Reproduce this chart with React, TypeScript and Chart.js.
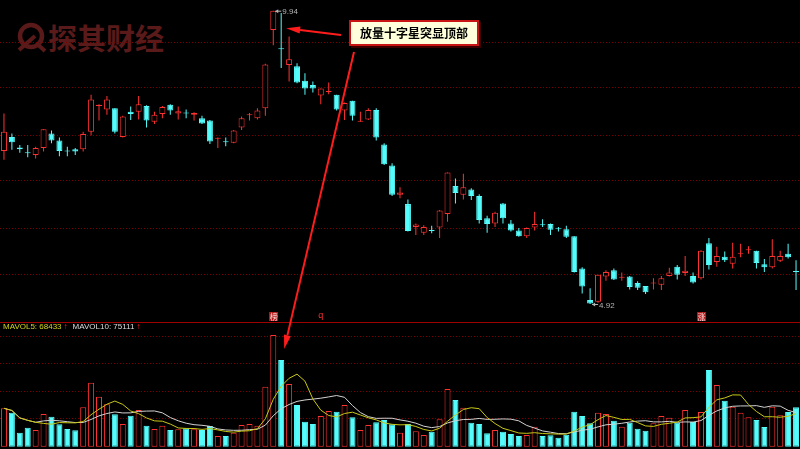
import React, { useEffect, useRef } from "react";
import { Chart, registerables } from "chart.js";

Chart.register(...registerables);

// ---------- data ----------
const OPEN = [
  7.54, 7.78, 7.60, 7.51, 7.47, 7.59, 7.84, 7.72, 7.54, 7.57,
  7.57, 7.87, 8.31, 8.25, 8.27, 7.78, 8.21, 8.21, 8.31, 8.04,
  8.17, 8.33, 8.18, 8.19, 8.16, 8.10, 8.06, 7.75, 7.70, 7.68,
  7.94, 8.15, 8.10, 8.27, 9.61, 9.29, 9.01, 8.99, 8.74, 8.67,
  8.49, 8.55, 8.50, 8.23, 8.40, 8.04, 8.08, 8.24, 7.65, 7.29,
  6.79, 6.63, 6.24, 6.14, 6.18, 6.23, 6.46, 6.94, 6.79, 6.88,
  6.77, 6.39, 6.30, 6.64, 6.30, 6.18, 6.08, 6.23, 6.28, 6.29,
  6.21, 6.20, 6.08, 5.53, 4.99, 4.96, 5.39, 5.50, 5.37, 5.39,
  5.28, 5.23, 5.27, 5.25, 5.40, 5.56, 5.45, 5.40, 5.36, 5.96,
  5.64, 5.73, 5.61, 5.78, 5.84, 5.83, 5.60, 5.55, 5.66, 5.78,
  5.48,
];
const HIGH = [
  8.18, 7.84, 7.64, 7.64, 7.61, 7.91, 7.89, 7.77, 7.61, 7.59,
  7.87, 8.50, 8.34, 8.48, 8.27, 8.14, 8.30, 8.48, 8.32, 8.21,
  8.31, 8.34, 8.30, 8.25, 8.20, 8.14, 8.07, 7.77, 7.77, 7.90,
  8.13, 8.19, 8.27, 9.03, 9.94, 9.90, 9.50, 9.04, 8.87, 8.73,
  8.61, 8.71, 8.50, 8.37, 8.40, 8.21, 8.27, 8.27, 7.67, 7.33,
  6.92, 6.71, 6.30, 6.27, 6.26, 6.53, 7.17, 7.07, 7.15, 6.90,
  6.80, 6.43, 6.50, 6.65, 6.36, 6.22, 6.23, 6.50, 6.37, 6.30,
  6.24, 6.26, 6.08, 5.55, 5.19, 5.42, 5.50, 5.53, 5.46, 5.40,
  5.31, 5.23, 5.36, 5.40, 5.54, 5.59, 5.74, 5.46, 5.84, 6.05,
  5.90, 5.82, 5.97, 5.95, 5.91, 5.83, 5.69, 6.03, 5.83, 5.95,
  5.67,
];
const LOW = [
  7.39, 7.56, 7.51, 7.43, 7.41, 7.53, 7.67, 7.45, 7.45, 7.47,
  7.53, 7.81, 8.06, 8.16, 7.84, 7.77, 8.07, 8.08, 7.94, 8.00,
  8.10, 8.16, 8.08, 8.10, 8.06, 8.00, 7.66, 7.59, 7.62, 7.67,
  7.90, 8.06, 8.08, 8.14, 9.35, 8.96, 8.73, 8.70, 8.50, 8.54,
  8.34, 8.51, 8.23, 8.07, 8.06, 8.04, 8.07, 7.72, 7.30, 6.77,
  6.73, 6.16, 6.10, 6.10, 6.13, 6.05, 6.33, 6.64, 6.71, 6.70,
  6.30, 6.14, 6.24, 6.30, 6.16, 6.07, 6.05, 6.18, 6.24, 6.10,
  6.16, 6.05, 5.46, 5.10, 4.92, 4.94, 5.32, 5.33, 5.32, 5.17,
  5.16, 5.09, 5.17, 5.16, 5.39, 5.34, 5.40, 5.27, 5.34, 5.51,
  5.56, 5.64, 5.53, 5.72, 5.78, 5.53, 5.47, 5.53, 5.64, 5.70,
  5.16,
];
const CLOSE = [
  7.87, 7.69, 7.57, 7.50, 7.59, 7.91, 7.72, 7.54, 7.53, 7.53,
  7.83, 8.42, 8.33, 8.42, 7.87, 8.13, 8.17, 8.34, 8.06, 8.16,
  8.29, 8.23, 8.22, 8.18, 8.19, 8.01, 7.70, 7.76, 7.69, 7.89,
  8.10, 8.16, 8.23, 9.02, 9.94, 9.28, 9.11, 8.71, 8.61, 8.61,
  8.61, 8.56, 8.25, 8.36, 8.14, 8.05, 8.24, 7.77, 7.31, 6.79,
  6.83, 6.17, 6.28, 6.24, 6.17, 6.52, 7.17, 6.82, 6.92, 6.77,
  6.36, 6.29, 6.48, 6.39, 6.18, 6.08, 6.22, 6.29, 6.27, 6.19,
  6.20, 6.07, 5.47, 5.22, 4.93, 5.42, 5.47, 5.34, 5.38, 5.21,
  5.20, 5.12, 5.28, 5.36, 5.46, 5.42, 5.49, 5.29, 5.83, 5.59,
  5.74, 5.67, 5.73, 5.79, 5.85, 5.62, 5.55, 5.74, 5.74, 5.72,
  5.47,
];
const VOLUME = [
  82600, 73100, 30100, 40900, 35900, 70300, 64500, 48200, 38100, 35300,
  84700, 137600, 107500, 91200, 69700, 48800, 66700, 78900, 45200, 38100,
  45200, 35900, 37400, 39600, 37400, 35900, 44500, 23000, 23000, 30100,
  46700, 48800, 45200, 129000, 240200, 186400, 134800, 89700, 53800, 48800,
  66000, 76800, 75300, 89700, 63200, 35900, 46700, 52500, 57400, 48200,
  30100, 48800, 33100, 25200, 32300, 58900, 124100, 100400, 83900, 51600,
  48800, 28800, 35900, 32300, 27300, 23000, 25200, 43000, 23000, 24500,
  19400, 25800, 75300, 66000, 50300, 73100, 70300, 55900, 43000, 51600,
  38700, 34400, 50300, 66000, 62400, 51600, 78900, 53100, 74600, 164900,
  132700, 98900, 86000, 73100, 63200, 57400, 42400, 86000, 67500, 74600,
  84700,
];
const PRICE_GRID = [9.40, 8.62, 7.81, 7.03, 6.22, 5.42];
const VOLUME_GRID = [60000, 119000, 178000, 237000];
const VOLUME_PANEL_TOP = 268500;
const MARKERS = [
  { index: 34, text: "榜", boxed: true },
  { index: 40, text: "q", boxed: false },
  { index: 88, text: "涨", boxed: true },
];
const ANNOTATION_TEXT = "放量十字星突显顶部";
const ANNOTATION_INDEX = 35;
const ANNOTATION_PRICE = 9.64;
const MAVOL5_LABEL = "MAVOL5: 68433";
const MAVOL10_LABEL = "MAVOL10: 75111";
const LOGO_TEXT = "探其财经";

// ---------- axis ranges / styles ----------
const PRICE_MIN = 2.439;
const PRICE_MAX = 10.123;
const VOL_MIN = -4945;
const VOL_MAX = 960405;
const UP = "#ff3232";
const DOWN = "#54fcfc";
const GRID = "#7a0000";
const BOX = { left: 349, top: 20, width: 130, height: 26 };

const LABELS = OPEN.map((_, i) => String(i + 1));
const isUp = (i: number) => CLOSE[i] >= OPEN[i];
const isDoji = (i: number) => Math.abs(CLOSE[i] - OPEN[i]) < 0.025;

const movingAverage = (values: number[], n: number) =>
  values.map((_, i) => {
    const s = values.slice(Math.max(0, i - n + 1), i + 1);
    return s.reduce((a, b) => a + b, 0) / s.length;
  });

function drawArrow(ctx: CanvasRenderingContext2D, x0: number, y0: number, x1: number, y1: number) {
  const ang = Math.atan2(y1 - y0, x1 - x0);
  const len = 14;
  const hw = 3.5;
  const bx = x1 - len * Math.cos(ang);
  const by = y1 - len * Math.sin(ang);
  ctx.strokeStyle = "#ff1c1c";
  ctx.fillStyle = "#ff1c1c";
  ctx.lineWidth = 2;
  ctx.beginPath();
  ctx.moveTo(x0, y0);
  ctx.lineTo(bx, by);
  ctx.stroke();
  ctx.beginPath();
  ctx.moveTo(x1, y1);
  ctx.lineTo(bx + hw * Math.sin(ang), by - hw * Math.cos(ang));
  ctx.lineTo(bx - hw * Math.sin(ang), by + hw * Math.cos(ang));
  ctx.closePath();
  ctx.fill();
}

function drawExtreme(ctx: CanvasRenderingContext2D, x: number, y: number, text: string) {
  ctx.strokeStyle = "#b4b4b4";
  ctx.fillStyle = "#b4b4b4";
  ctx.lineWidth = 1;
  ctx.beginPath();
  ctx.moveTo(x + 2, y + 0.5);
  ctx.lineTo(x + 8, y + 0.5);
  ctx.stroke();
  ctx.beginPath();
  ctx.moveTo(x + 2, y + 0.5);
  ctx.lineTo(x + 5, y - 1.5);
  ctx.lineTo(x + 5, y + 2.5);
  ctx.closePath();
  ctx.fill();
  ctx.font = "8px 'Liberation Sans', Arial, sans-serif";
  ctx.textAlign = "left";
  ctx.textBaseline = "middle";
  ctx.fillText(text, x + 9, y + 1.5);
}

const overlayPlugin = {
  id: "overlay",
  afterDatasetsDraw(chart: any) {
    const { ctx, chartArea } = chart;
    const xs = chart.scales.x;
    const ys = chart.scales.y;
    const yv = chart.scales.yv;
    ctx.save();
    // separator between panels
    const sepY = Math.round(yv.getPixelForValue(VOLUME_PANEL_TOP)) + 0.5;
    ctx.strokeStyle = "#a00000";
    ctx.lineWidth = 1;
    ctx.beginPath();
    ctx.moveTo(chartArea.left, sepY);
    ctx.lineTo(chartArea.right, sepY);
    ctx.stroke();

    // high / low labels
    let iMax = 0;
    let iMin = 0;
    HIGH.forEach((v, i) => { if (v > HIGH[iMax]) iMax = i; });
    LOW.forEach((v, i) => { if (v < LOW[iMin]) iMin = i; });
    drawExtreme(ctx, xs.getPixelForValue(iMax), ys.getPixelForValue(HIGH[iMax]), HIGH[iMax].toFixed(2));
    drawExtreme(ctx, xs.getPixelForValue(iMin), ys.getPixelForValue(LOW[iMin]), LOW[iMin].toFixed(2));

    // event markers
    ctx.textAlign = "center";
    ctx.textBaseline = "middle";
    MARKERS.forEach((m) => {
      const cx = xs.getPixelForValue(m.index);
      if (m.boxed) {
        ctx.fillStyle = "#b01818";
        ctx.fillRect(Math.round(cx - 4), sepY - 10.5, 9, 9);
        ctx.fillStyle = "#ffe0e0";
        ctx.font = "8px 'Noto Sans CJK SC', sans-serif";
        ctx.fillText(m.text, cx + 0.5, sepY - 6);
      } else {
        ctx.fillStyle = "#ff3030";
        ctx.font = "9px 'Liberation Sans', Arial, sans-serif";
        ctx.fillText(m.text, cx, sepY - 7);
      }
    });

    // annotation arrows
    const tx = xs.getPixelForValue(ANNOTATION_INDEX);
    drawArrow(ctx, BOX.left - 8, BOX.top + 15, tx + 5, ys.getPixelForValue(ANNOTATION_PRICE));
    drawArrow(ctx, BOX.left + 5, BOX.top + BOX.height + 6, tx + 3, yv.getPixelForValue(VOLUME[ANNOTATION_INDEX]) - 11);
    ctx.restore();
  },
};

export default function App() {
  const canvasRef = useRef<HTMLCanvasElement>(null);

  useEffect(() => {
    document.body.style.margin = "0";
    document.body.style.background = "#000";
    const ma5 = movingAverage(VOLUME, 5);
    const ma10 = movingAverage(VOLUME, 10);
    const chart = new Chart(canvasRef.current as HTMLCanvasElement, {
      type: "bar",
      data: {
        labels: LABELS,
        datasets: [
          {
            type: "line",
            label: "MAVOL5",
            data: ma5,
            yAxisID: "yv",
            borderColor: "#c8c814",
            borderWidth: 1,
            pointRadius: 0,
            tension: 0,
          },
          {
            type: "line",
            label: "MAVOL10",
            data: ma10,
            yAxisID: "yv",
            borderColor: "#d2d2d2",
            borderWidth: 1,
            pointRadius: 0,
            tension: 0,
          },
          {
            type: "bar",
            label: "body",
            data: OPEN.map((o, i) => [o, CLOSE[i]]),
            yAxisID: "y",
            grouped: false,
            barThickness: 6,
            minBarLength: 1,
            borderWidth: 1,
            borderSkipped: false,
            inflateAmount: 0,
            borderColor: (c: any) => (isUp(c.dataIndex) ? UP : DOWN),
            backgroundColor: (c: any) => {
              const i = c.dataIndex;
              if (isDoji(i)) return isUp(i) ? UP : DOWN;
              return isUp(i) ? "#000000" : DOWN;
            },
          },
          {
            type: "bar",
            label: "wick",
            data: LOW.map((l, i) => [l, HIGH[i]]),
            yAxisID: "y",
            grouped: false,
            barThickness: 1,
            minBarLength: 1,
            borderWidth: 0,
            inflateAmount: 0,
            backgroundColor: (c: any) => (isUp(c.dataIndex) ? UP : DOWN),
          },
          {
            type: "bar",
            label: "volume",
            data: VOLUME,
            yAxisID: "yv",
            grouped: false,
            barThickness: 6,
            borderWidth: 1,
            borderSkipped: false,
            inflateAmount: 0,
            borderColor: (c: any) => (isUp(c.dataIndex) ? UP : DOWN),
            backgroundColor: (c: any) => (isUp(c.dataIndex) ? "#000000" : DOWN),
          },
        ],
      } as any,
      options: {
        animation: false,
        responsive: false,
        events: [],
        layout: { padding: 0 },
        plugins: { legend: { display: false }, tooltip: { enabled: false } },
        scales: {
          x: { type: "category", display: false, offset: true },
          y: {
            type: "linear",
            position: "left",
            min: PRICE_MIN,
            max: PRICE_MAX,
            afterBuildTicks: (s: any) => { s.ticks = PRICE_GRID.map((v) => ({ value: v })); },
            afterFit: (s: any) => { s.width = 0; },
            ticks: { display: false },
            grid: { color: GRID, lineWidth: 1, drawTicks: false },
            border: { display: false, dash: [1, 2] },
          },
          yv: {
            type: "linear",
            position: "left",
            min: VOL_MIN,
            max: VOL_MAX,
            afterBuildTicks: (s: any) => { s.ticks = VOLUME_GRID.map((v) => ({ value: v })); },
            afterFit: (s: any) => { s.width = 0; },
            ticks: { display: false },
            grid: { color: GRID, lineWidth: 1, drawTicks: false },
            border: { display: false, dash: [1, 2] },
          },
        },
      } as any,
      plugins: [overlayPlugin],
    });
    return () => chart.destroy();
  }, []);

  return (
    <div style={{ position: "relative", width: 800, height: 449, background: "#000", overflow: "hidden" }}>
      <div style={{ position: "absolute", left: 14, top: 21, display: "flex", alignItems: "center", color: "#5a1a1a" }}>
        <svg width="34" height="32" viewBox="0 0 34 32">
          <circle cx="17" cy="15" r="11" fill="none" stroke="#5a1a1a" strokeWidth="4.5" />
          <line x1="5" y1="29" x2="21" y2="15" stroke="#5a1a1a" strokeWidth="4" />
          <line x1="22" y1="22" x2="31" y2="30" stroke="#5a1a1a" strokeWidth="4" />
        </svg>
        <span style={{ font: "bold 29px 'Noto Sans CJK SC', sans-serif", lineHeight: "29px" }}>{LOGO_TEXT}</span>
      </div>
      <canvas ref={canvasRef} width={800} height={449} style={{ position: "absolute", left: 0, top: 0, display: "block" }} />
      <div
        style={{
          position: "absolute",
          left: BOX.left,
          top: BOX.top,
          width: BOX.width,
          height: BOX.height,
          boxSizing: "border-box",
          background: "#ffffdc",
          border: "2px solid #c81414",
          boxShadow: "2px 2px 0 #3a0000",
          font: "bold 12px 'Noto Sans CJK SC', sans-serif",
          color: "#000",
          lineHeight: `${BOX.height - 4}px`,
          paddingLeft: 9,
          whiteSpace: "nowrap",
        }}
      >
        {ANNOTATION_TEXT}
      </div>
      <div
        style={{
          position: "absolute",
          left: 3,
          top: 322,
          font: "8px 'Liberation Sans', Arial, sans-serif",
          lineHeight: "10px",
          whiteSpace: "nowrap",
        }}
      >
        <span style={{ color: "#d4d41c" }}>{MAVOL5_LABEL}</span>
        <span style={{ color: "#ff2020", marginLeft: 2 }}>↑</span>
        <span style={{ color: "#dcdcdc", marginLeft: 5 }}>{MAVOL10_LABEL}</span>
        <span style={{ color: "#ff2020", marginLeft: 2 }}>↑</span>
      </div>
    </div>
  );
}
